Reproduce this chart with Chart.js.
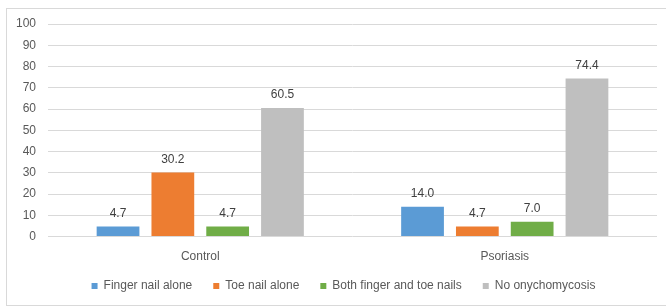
<!DOCTYPE html>
<html>
<head>
<meta charset="utf-8">
<script src="https://cdn.jsdelivr.net/npm/chart.js@4.4.1/dist/chart.umd.min.js"></script>
<style>
  body { margin: 0; background: #fff; }
  #wrap { position: relative; width: 666px; height: 306px; overflow: hidden; }
  #frame { position: absolute; left: 6px; top: 8px; width: 700px; height: 296px; border: 1px solid #d9d9d9; }
  #chart { position: absolute; left: 0; top: 0; }
</style>
</head>
<body>
<div id="wrap">
  <div id="frame"></div>
  <canvas id="chart" width="666" height="306"></canvas>
</div>
<script>
const categories = ["Control", "Psoriasis"];
const fingerNail = [4.7, 14.0];
const toeNail = [30.2, 4.7];
const bothNails = [4.7, 7.0];
const noOnycho = [60.5, 74.4];
const seriesNames = ["Finger nail alone", "Toe nail alone", "Both finger and toe nails", "No onychomycosis"];
const colors = ["#5b9bd5", "#ed7d31", "#70ad47", "#bfbfbf"];

Chart.defaults.font.family = "'Liberation Sans', Arial, sans-serif";
Chart.defaults.font.size = 12;
Chart.defaults.color = "#595959";

// value on top of every bar
const barValues = {
    id: "barValues",
    afterDatasetsDraw(chart) {
        const ctx = chart.ctx;
        ctx.save();
        ctx.font = "12px 'Liberation Sans', Arial, sans-serif";
        ctx.fillStyle = "#404040";
        ctx.textAlign = "center";
        ctx.textBaseline = "middle";
        chart.data.datasets.forEach((ds, i) => {
            chart.getDatasetMeta(i).data.forEach((bar, j) => {
                ctx.fillText(ds.data[j].toFixed(1), bar.x, bar.y - 13);
            });
        });
        ctx.restore();
    }
};

// legend: wide gaps between items but a short box
const legendFit = {
    id: "legendFit",
    beforeInit(chart) {
        const fit = chart.legend.fit;
        chart.legend.fit = function () {
            fit.call(this);
            this.height = 29;
        };
    },
    afterLayout(chart) {
        const lg = chart.legend;
        lg.top -= 18;
        lg.bottom = lg.top + 45;
        lg.left += 15; lg.right += 15;
    }
};

new Chart("chart", {
    type: "bar",
    data: {
        labels: categories,
        datasets: [
            { label: seriesNames[0], data: fingerNail, backgroundColor: colors[0] },
            { label: seriesNames[1], data: toeNail, backgroundColor: colors[1] },
            { label: seriesNames[2], data: bothNails, backgroundColor: colors[2] },
            { label: seriesNames[3], data: noOnycho, backgroundColor: colors[3] }
        ]
    },
    options: {
        responsive: false,
        animation: false,
        categoryPercentage: 0.72,
        barPercentage: 0.78,
        layout: { padding: { top: 24, right: 9, left: 0, bottom: 0 } },
        plugins: {
            tooltip: { enabled: false },
            legend: {
                position: "bottom",
                labels: { boxWidth: 6, boxHeight: 6, padding: 21, color: "#595959", font: { size: 12 } }
            }
        },
        scales: {
            x: {
                grid: { display: false, drawTicks: false },
                border: { display: false },
                ticks: { padding: 13, color: "#595959" }
            },
            y: {
                min: 0,
                max: 100,
                ticks: { stepSize: 10, padding: 12, color: "#595959" },
                grid: { color: "#d9d9d9", drawTicks: false },
                border: { display: false },
                afterFit(s) { s.width = 48; }
            }
        }
    },
    plugins: [barValues, legendFit]
});
</script>
</body>
</html>
